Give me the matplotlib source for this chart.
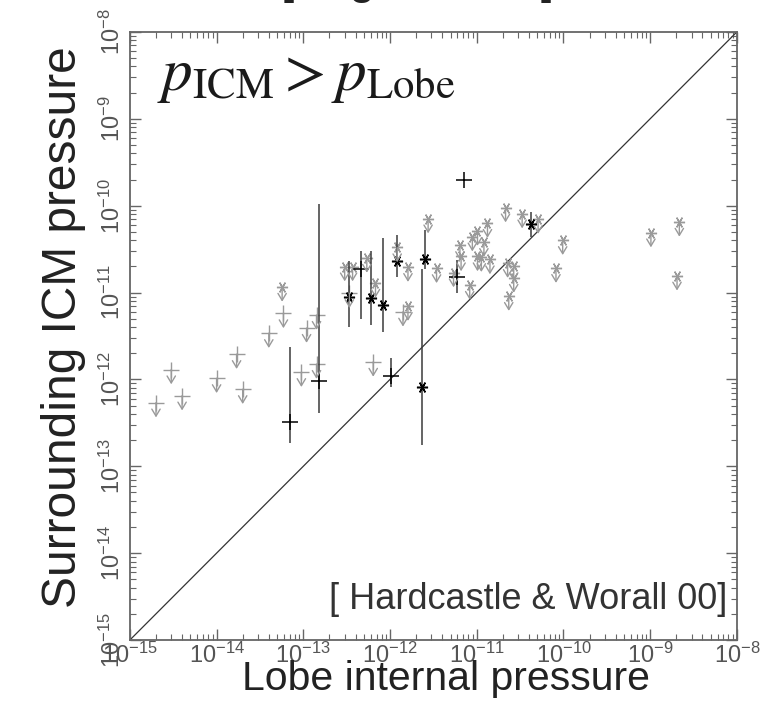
import matplotlib
matplotlib.use("Agg")
import matplotlib.pyplot as plt
import numpy as np

# lobe internal pressure (x) vs surrounding ICM pressure (y)
# gray upper limits drawn with "+"
lim_plus_x = [2.0e-15, 3.0e-15, 4.0e-15, 1.0e-14, 2.0e-14, 1.7e-14, 4.0e-14, 5.9e-14,
              1.09e-13, 9.5e-14, 1.42e-13, 1.42e-13, 3.4e-13, 6.4e-13, 1.41e-12]
lim_plus_y = [5.4e-13, 1.30e-12, 6.5e-13, 1.03e-12, 7.7e-13, 1.95e-12, 3.4e-12, 5.75e-12,
              3.9e-12, 1.21e-12, 5.5e-12, 1.50e-12, 9.8e-12, 1.59e-12, 6.0e-12]

# gray upper limits drawn with "*"
lim_star_x = [5.7e-14, 3.0e-13, 3.7e-13, 5.4e-13, 6.8e-13, 1.21e-12, 1.61e-12, 1.61e-12,
              2.75e-12, 3.44e-12, 5.4e-12, 6.4e-12, 6.6e-12, 8.3e-12, 8.9e-12, 1.02e-11,
              1.02e-11, 1.13e-11, 1.21e-11, 1.33e-11, 1.42e-11, 2.15e-11, 2.27e-11, 2.67e-11,
              2.67e-11, 2.34e-11, 3.34e-11, 5.1e-11, 9.8e-11, 8.2e-11, 1.02e-9, 2.17e-9, 2.04e-9]
lim_star_y = [1.16e-11, 1.99e-11, 1.99e-11, 2.5e-11, 1.29e-11, 3.3e-11, 1.96e-11, 6.97e-12,
              7.1e-11, 1.9e-11, 1.7e-11, 3.5e-11, 2.6e-11, 1.22e-11, 4.4e-11, 5.1e-11,
              2.6e-11, 2.55e-11, 3.8e-11, 6.3e-11, 2.4e-11, 9.5e-11, 2.18e-11, 2.0e-11,
              1.47e-11, 9.1e-12, 8.1e-11, 7.0e-11, 4.0e-11, 1.91e-11, 4.9e-11, 6.5e-11, 1.56e-11]

# detections with ranges (black)
det_x = [7.0e-14, 1.52e-13, 3.4e-13, 4.67e-13, 6.1e-13, 8.4e-13, 1.02e-12, 1.21e-12,
         2.33e-12, 2.52e-12, 5.9e-12, 7.05e-12, 4.25e-11]
det_y = [3.25e-13, 9.7e-13, 8.8e-12, 1.89e-11, 8.55e-12, 7.2e-12, 1.10e-12, 2.32e-11,
         8.2e-13, 2.4e-11, 1.49e-11, 2.0e-10, 6.1e-11]
det_lo = [1.83e-13, 4.1e-13, 4.0e-12, 5.0e-12, 4.2e-12, 3.5e-12, 8.1e-13, 1.52e-11,
          1.75e-13, 1.89e-11, 9.9e-12, 2.0e-10, 4.3e-11]
det_hi = [2.37e-12, 1.04e-10, 2.3e-11, 3.0e-11, 3.0e-11, 4.2e-11, 1.77e-12, 4.6e-11,
          1.89e-11, 5.3e-11, 2.36e-11, 2.0e-10, 8.5e-11]
det_marker = ['+', '+', '*', '+', '*', '*', '+', '*', '*', '*', '+', '+', '*']

plt.rcParams['font.family'] = ['Liberation Sans', 'DejaVu Sans']

fig = plt.figure(figsize=(7.64, 7.03), dpi=100)
ax = fig.add_axes([0.170, 0.0896, 0.7945, 0.865])
ax.set_xscale('log')
ax.set_yscale('log')
ax.set_xlim(1e-15, 1e-8)
ax.set_ylim(1e-15, 1e-8)

# p_ICM = p_Lobe line
ax.plot([1e-15, 1e-8], [1e-15, 1e-8], color='#333333', lw=0.9)

asterisk = (6, 2, 90)
gray = '#9a9a9a'
arrow_dex = 0.17

# upper limits
for xs, ys, mk, ms in [(lim_plus_x, lim_plus_y, '+', 11), (lim_star_x, lim_star_y, asterisk, 8)]:
    ax.plot(xs, ys, ls='none', marker=mk, ms=ms, mew=1.0, color=gray)
    for x, y in zip(xs, ys):
        ax.annotate('', xy=(x, y * 10 ** -arrow_dex), xytext=(x, y),
                    arrowprops=dict(arrowstyle='->, head_length=0.5, head_width=0.3',
                                    color=gray, lw=1.0, shrinkA=0, shrinkB=0))

# detections
ax.vlines(det_x, det_lo, det_hi, color='#3a3a3a', lw=1.1)
for x, y, m in zip(det_x, det_y, det_marker):
    if m == '+':
        ax.plot(x, y, ls='none', marker='+', ms=11, mew=1.1, color='black')
    else:
        ax.plot(x, y, ls='none', marker=asterisk, ms=8, mew=1.1, color='black')

for s in ax.spines.values():
    s.set_color('#666666')
    s.set_linewidth(1.3)
ax.tick_params(which='both', direction='in', top=True, right=True, color='#666666',
               labelcolor='#555555', labelsize=17)
ax.tick_params(which='major', length=8, width=1.0)
ax.tick_params(which='minor', length=4, width=0.8)
ax.tick_params(axis='x', pad=2)
ax.xaxis.set_major_locator(matplotlib.ticker.LogLocator(base=10, numticks=10))
ax.yaxis.set_major_locator(matplotlib.ticker.LogLocator(base=10, numticks=10))
plt.setp(ax.get_yticklabels(), rotation=90, va='center')

ax.text(0.045, 0.905, r'$p_{\mathrm{ICM}} > p_{\mathrm{Lobe}}$', transform=ax.transAxes,
        fontsize=44, math_fontfamily='stix', va='baseline', ha='left', color='#1a1a1a')
ax.text(0.985, 0.066, '[ Hardcastle & Worall 00]', transform=ax.transAxes,
        fontsize=26, ha='right', va='center', color='#333333')

fig.text(0.083, 0.534, 'Surrounding ICM pressure', rotation=90, ha='center', va='center',
         fontsize=34.5, color='#222222')
fig.text(0.584, 0.034, 'Lobe internal pressure', ha='center', va='center',
         fontsize=29.5, color='#222222')

# heading cut off by the top edge of the slide (only its descenders show)
fig.text(0.545, 1.0 + 6 / 703, '[ erg, cm$^{-3}$, ]', ha='center', va='baseline',
         fontsize=34, color='#222222')

fig.savefig('out.png', dpi=100)
